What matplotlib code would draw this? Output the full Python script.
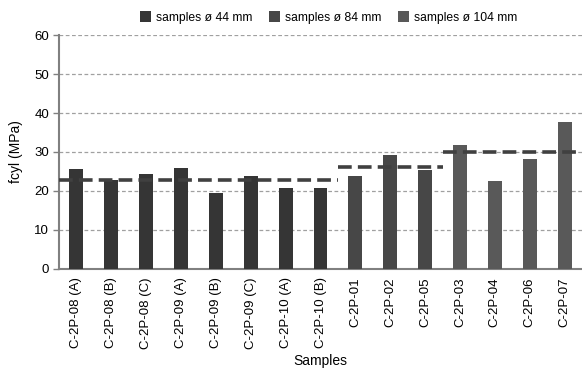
import numpy as np
import matplotlib
matplotlib.use('Agg')
import matplotlib.pyplot as plt
from matplotlib.patches import Patch

plt.rcParams['font.family'] = ['Liberation Sans', 'DejaVu Sans']

labels_44 = ['C-2P-08 (A)', 'C-2P-08 (B)', 'C-2P-08 (C)', 'C-2P-09 (A)',
             'C-2P-09 (B)', 'C-2P-09 (C)', 'C-2P-10 (A)', 'C-2P-10 (B)']
labels_84 = ['C-2P-01', 'C-2P-02', 'C-2P-05']
labels_104 = ['C-2P-03', 'C-2P-04', 'C-2P-06', 'C-2P-07']

fcyl_44 = [25.6, 22.8, 24.3, 25.9, 19.5, 23.8, 20.7, 20.7]
fcyl_84 = [23.8, 29.2, 25.3]
fcyl_104 = [31.8, 22.5, 28.2, 37.7]

groups = [
    ('samples \u00f8 44 mm', labels_44, fcyl_44, '#353535'),
    ('samples \u00f8 84 mm', labels_84, fcyl_84, '#474747'),
    ('samples \u00f8 104 mm', labels_104, fcyl_104, '#595959'),
]

fig = plt.figure(figsize=(5.82, 3.73), dpi=100)
ax = fig.add_axes([0.1014, 0.279, 0.8986, 0.627])

all_labels = []
start = 0
handles = []
for name, labs, vals, col in groups:
    x = np.arange(start, start + len(labs))
    ax.bar(x, vals, width=0.4, color=col, zorder=3)
    # group mean as dashed line
    ax.plot([start - 0.5, start + len(labs) - 0.5], [np.mean(vals)] * 2,
            color='#404040', lw=2.6, dashes=(3.8, 1.7), zorder=4,
            solid_capstyle='butt', dash_capstyle='butt')
    handles.append(Patch(facecolor=col, label=name))
    all_labels += labs
    start += len(labs)

ax.set_xlim(-0.5, len(all_labels) - 0.5)
ax.set_ylim(0, 60)
ax.set_yticks(range(0, 61, 10))
ax.set_xticks(range(len(all_labels)))
ax.set_xticklabels(all_labels, rotation=90, fontsize=9.5)
ax.tick_params(axis='x', length=0, pad=6)
ax.tick_params(axis='y', length=4, width=1, color='#808080', labelsize=9.5, pad=3)

ax.grid(axis='y', color='#a0a0a0', linestyle=(0, (3, 2)), lw=0.9, zorder=0)
ax.set_axisbelow(True)
for s in ['top', 'right']:
    ax.spines[s].set_visible(False)
for s in ['left', 'bottom']:
    ax.spines[s].set_color('#808080')
    ax.spines[s].set_linewidth(1.5)

ax.set_ylabel('fcyl (MPa)', fontsize=10, labelpad=8)
ax.set_xlabel('Samples', fontsize=10, labelpad=4)

ax.legend(handles=handles, loc='center', bbox_to_anchor=(0.515, 1.075), ncol=3,
          frameon=False, fontsize=8.7, handlelength=0.95, handleheight=0.95,
          handletextpad=0.35, columnspacing=1.4, borderaxespad=0)

fig.savefig('out.png', dpi=100)
